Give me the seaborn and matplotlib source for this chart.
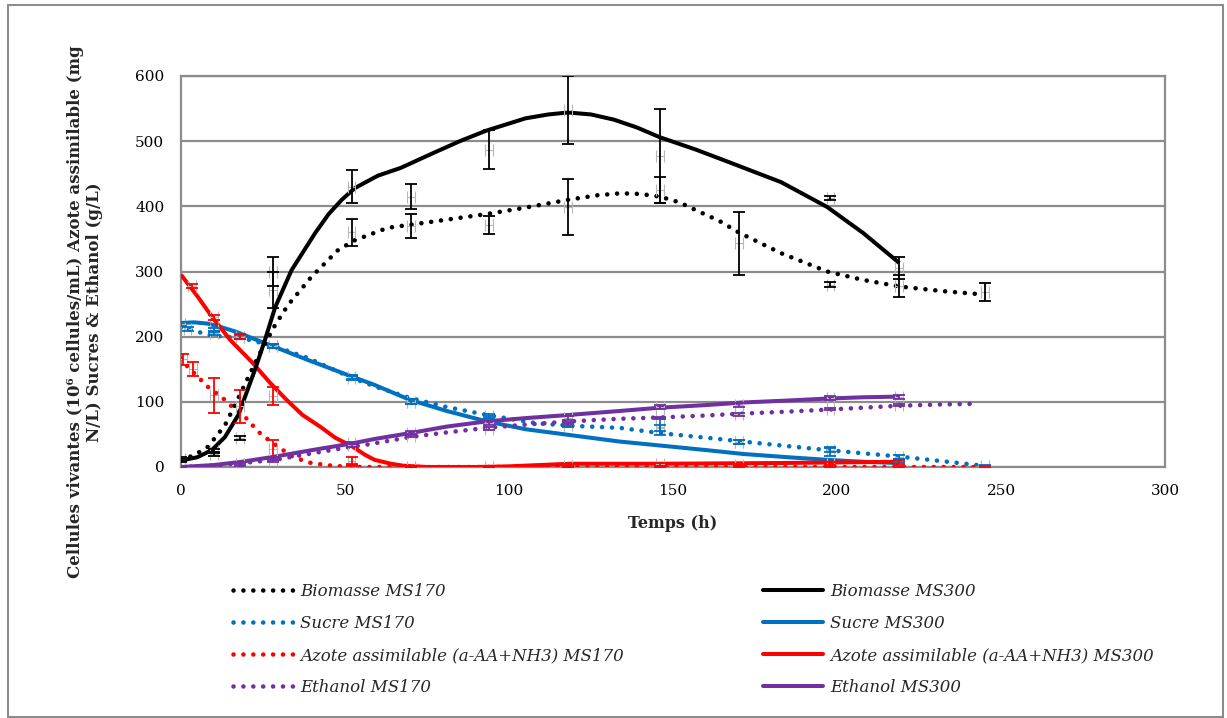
import numpy as np
import pandas as pd
import matplotlib
matplotlib.use("Agg")
import matplotlib.pyplot as plt
from matplotlib.lines import Line2D
from matplotlib.patches import Rectangle
import seaborn as sns

# ---------------- model curves ----------------
bio300_t = [0, 5, 9.4, 13.4, 17.5, 22.6, 25.6, 28.7, 33.7, 40.9, 45, 49, 53, 60, 67, 77, 85, 93, 105, 112, 118, 125, 132, 139, 146, 157, 168, 183, 197, 208, 219]
bio300_v = [10, 15, 26, 46, 80, 150, 195, 245, 302, 359, 388, 410, 428, 447, 459, 482, 500, 516, 535, 541, 544, 541, 533, 521, 506, 487, 466, 437, 399, 359, 313]

bio170_t = [0, 4, 8.2, 13.4, 17.5, 21, 24.6, 28.7, 32.7, 39.8, 47.9, 53, 63, 76, 93, 105, 118, 127, 134, 140, 146, 152, 157, 164, 170, 183, 197, 208, 219, 232, 244]
bio170_v = [11, 18, 31, 64, 106, 143, 180, 218, 249, 292, 333, 348, 367, 376, 388, 398, 410, 417, 420, 419, 415, 406, 394, 378, 360, 328, 300, 287, 277, 270, 265]

suc300_t = [0, 4, 8.2, 12, 16.5, 25.6, 38.8, 52, 59, 69.8, 81, 93.2, 105, 118.6, 133.8, 146, 160, 171.4, 185, 197, 208, 219]
suc300_v = [221, 222, 220, 215, 208, 190, 164, 139, 126, 103, 86, 70, 58, 49, 39, 33, 26, 20, 15, 11, 8, 6]

suc170_t = [0, 2.1, 8.2, 13, 18.5, 28.7, 38.8, 52, 60, 69.8, 81, 93.2, 108.4, 120, 133.8, 146, 160, 171.4, 185, 197, 208, 219, 232, 244.5]
suc170_v = [214, 212, 203, 200, 198, 185, 167, 137, 122, 106, 92, 80, 67, 63, 60, 52, 45, 39, 32, 26, 21, 16, 9, 2]

azo300_t = [0, 5, 9.8, 15, 22, 27, 32.2, 37, 42.4, 47, 52.4, 56, 59, 64, 67.7, 75, 90, 100, 118.6, 146, 180, 219]
azo300_v = [295, 262, 228, 195, 159, 130, 103, 80, 62, 45, 31, 19, 11, 5, 2, 0, 0, 1, 5, 5, 6, 8]

azo170_t = [0, 2, 8.2, 13.4, 15, 19.5, 23.6, 26.1, 30.2, 34, 38.8, 44, 49, 55, 100, 150, 200, 244]
azo170_v = [167, 154, 123, 103, 95, 77, 54, 44, 29, 16, 7, 3, 1, 0, 0, 0, 0, 0]

eth300_t = [0, 10, 18.5, 28.7, 40, 52, 59, 69.8, 81, 93.2, 105, 118.6, 133.8, 146, 160, 171.4, 185, 197, 208, 219]
eth300_v = [0, 3, 8, 16, 26, 36, 43, 52, 62, 70, 75, 80, 86, 91, 95, 99, 102, 105, 107, 108]

eth170_t = [0, 10, 18.5, 28.7, 40, 52, 57.6, 69.8, 81, 93.2, 105, 118.6, 133.8, 146, 160, 171.4, 185, 197, 208, 219, 232, 242.6]
eth170_v = [0, 2, 6, 11, 21, 31, 35, 46, 53, 60, 65, 70, 74, 76, 79, 82, 85, 88, 91, 94, 96, 97]

# ---------------- measured points with error bars ----------------
bio300_obs_t = [0, 10, 18, 28, 52, 70, 94, 118, 146, 198, 219]
bio300_obs_v = [10, 25, 44, 300, 430, 415, 487, 548, 477, 413, 305]
bio300_obs_e = [3, 3, 3, 23, 25, 19, 30, 52, 72, 3, 17]

bio170_obs_t = [0, 10, 28, 52, 70, 94, 118, 146, 170, 198, 219, 245]
bio170_obs_v = [12, 20, 272, 360, 370, 371, 399, 425, 343, 280, 278, 268]
bio170_obs_e = [3, 3, 28, 21, 18, 14, 43, 20, 48, 4, 17, 14]

suc300_obs_t = [0, 10, 18, 28, 52, 70, 94, 118, 146, 170, 198, 219]
suc300_obs_v = [220, 210, 200, 185, 138, 100, 76, 64, 62, 39, 24, 10]
suc300_obs_e = [3, 3, 3, 3, 3, 4, 3, 3, 13, 3, 7, 3]

suc170_obs_t = [2, 10, 18, 28, 52, 70, 94, 118, 146, 170, 198, 219, 245]
suc170_obs_v = [212, 205, 200, 185, 137, 100, 78, 64, 60, 39, 26, 16, 1]
suc170_obs_e = [3, 3, 3, 3, 3, 4, 3, 3, 5, 3, 3, 3, 2]

azo300_obs_t = [3.3, 10, 18, 28, 52, 70, 94, 118, 146, 170, 198, 219]
azo300_obs_v = [278, 230, 200, 109, 9, 0, 0, 2, 4, 3, 5, 7]
azo300_obs_e = [3, 4, 4, 14, 6, 2, 2, 2, 2, 2, 2, 3]

azo170_obs_t = [0.6, 3.6, 10, 18, 28, 52, 70, 94, 118, 146, 170, 198, 219, 245]
azo170_obs_v = [165, 150, 110, 93, 28, 3, 0, 0, 0, 0, 0, 0, 0, 0]
azo170_obs_e = [9, 11, 27, 25, 13, 2, 1, 1, 1, 1, 1, 1, 1, 1]

eth300_obs_t = [0, 18, 28, 52, 70, 94, 118, 146, 170, 198, 219]
eth300_obs_v = [0, 5, 13, 37, 52, 68, 75, 92, 95, 106, 108]
eth300_obs_e = [1, 2, 2, 2, 3, 3, 3, 3, 3, 3, 3]

eth170_obs_t = [0, 18, 28, 52, 70, 94, 118, 146, 170, 198, 219]
eth170_obs_v = [0, 4, 10, 33, 48, 59, 67, 75, 81, 89, 95]
eth170_obs_e = [1, 2, 2, 2, 2, 2, 2, 2, 2, 2, 2]

labels170 = ["Biomasse MS170", "Sucre MS170", "Azote assimilable (a-AA+NH3) MS170", "Ethanol MS170"]
labels300 = ["Biomasse MS300", "Sucre MS300", "Azote assimilable (a-AA+NH3) MS300", "Ethanol MS300"]
x_ticks = [0, 50, 100, 150, 200, 250, 300]
y_ticks = [0, 100, 200, 300, 400, 500, 600]

# ---------------- styling ----------------
sns.set_theme(style="white")
plt.rcParams["font.family"] = ["DejaVu Serif"]

BLACK, BLUE, RED, PURPLE = "#000000", "#0070C0", "#FF0000", "#7030A0"
GRID = "#8c8c8c"
DOT = (0, (0.01, 2.15))
LW_SOLID = 2.9
LW_DOT = 3.3

W, H = 1227, 718
fig = plt.figure(figsize=(W / 100, H / 100), dpi=100)
fig.patch.set_facecolor("white")
ax = fig.add_axes([181 / W, 1 - 467 / H, 984 / W, 391 / H])

ax.set_xlim(0, 300)
ax.set_ylim(0, 600)
ax.set_xticks(x_ticks)
ax.set_yticks(y_ticks)
ax.tick_params(axis="both", length=0, labelsize=11, colors="black")
ax.tick_params(axis="y", pad=12)
ax.tick_params(axis="x", pad=12)
ax.yaxis.grid(True, color=GRID, linewidth=1.6)
ax.xaxis.grid(False)
ax.set_axisbelow(True)
for s in ax.spines.values():
    s.set_color(GRID)
    s.set_linewidth(1.6)

def curve(t, v, color, dotted, z):
    df = pd.DataFrame({"t": t, "v": v})
    if dotted:
        sns.lineplot(data=df, x="t", y="v", ax=ax, color=color, linewidth=LW_DOT,
                     linestyle=DOT, dash_capstyle="round", sort=False, estimator=None, zorder=z)
    else:
        sns.lineplot(data=df, x="t", y="v", ax=ax, color=color, linewidth=LW_SOLID,
                     sort=False, estimator=None, solid_capstyle="butt",
                     solid_joinstyle="round", zorder=z)

def obs(t, v, e, color):
    ax.errorbar(t, v, xerr=1.2, fmt="none", ecolor="#b8b8b8", elinewidth=0.8,
                capsize=4.5, capthick=0.8, zorder=6)
    ax.errorbar(t, v, yerr=e, fmt="none", ecolor=color, elinewidth=1.3,
                capsize=4, capthick=1.3, zorder=7)

# draw order: sugar, nitrogen, ethanol, biomass
curve(suc170_t, suc170_v, BLUE, True, 2)
curve(suc300_t, suc300_v, BLUE, False, 2)
curve(azo170_t, azo170_v, RED, True, 3)
curve(azo300_t, azo300_v, RED, False, 3)
curve(eth170_t, eth170_v, PURPLE, True, 4)
curve(eth300_t, eth300_v, PURPLE, False, 4)
curve(bio170_t, bio170_v, BLACK, True, 5)
curve(bio300_t, bio300_v, BLACK, False, 5)

obs(suc170_obs_t, suc170_obs_v, suc170_obs_e, BLUE)
obs(suc300_obs_t, suc300_obs_v, suc300_obs_e, BLUE)
obs(azo170_obs_t, azo170_obs_v, azo170_obs_e, RED)
obs(azo300_obs_t, azo300_obs_v, azo300_obs_e, RED)
obs(eth170_obs_t, eth170_obs_v, eth170_obs_e, PURPLE)
obs(eth300_obs_t, eth300_obs_v, eth300_obs_e, PURPLE)
obs(bio170_obs_t, bio170_obs_v, bio170_obs_e, BLACK)
obs(bio300_obs_t, bio300_obs_v, bio300_obs_e, BLACK)

ax.set_xlabel("")
ax.set_ylabel("")

fig.text(673 / W, 1 - 523 / H, "Temps (h)", ha="center", va="center",
         fontsize=11.5, fontweight="bold")
fig.text(85 / W, 1 - 312 / H,
         "Cellules vivantes (10⁶ cellules/mL) Azote assimilable (mg\nN/L) Sucres & Ethanol (g/L)",
         rotation=90, ha="center", va="center", fontsize=12, fontweight="bold",
         multialignment="center", linespacing=1.2)

# legends
colors = [BLACK, BLUE, RED, PURPLE]
h170 = [Line2D([], [], color=c, linewidth=LW_DOT, linestyle=DOT, dash_capstyle="round") for c in colors]
h300 = [Line2D([], [], color=c, linewidth=LW_SOLID) for c in colors]
leg_kw = dict(loc="upper left", frameon=False, borderpad=0, borderaxespad=0,
              handlelength=3.6, handletextpad=0.42, labelspacing=0.9,
              prop={"family": "DejaVu Serif", "style": "italic", "size": 12})
fig.legend(h170, labels170, bbox_to_anchor=(233 / W, 1 - 583 / H), **leg_kw)
fig.legend(h300, labels300, bbox_to_anchor=(763 / W, 1 - 583 / H), **leg_kw)

# outer frame
fig.patches.append(Rectangle((8 / W, 1 / H), 1 - 12 / W, 1 - 6 / H, transform=fig.transFigure,
                             fill=False, edgecolor=GRID, linewidth=1.5))

fig.savefig("out.png", dpi=100, facecolor="white")
